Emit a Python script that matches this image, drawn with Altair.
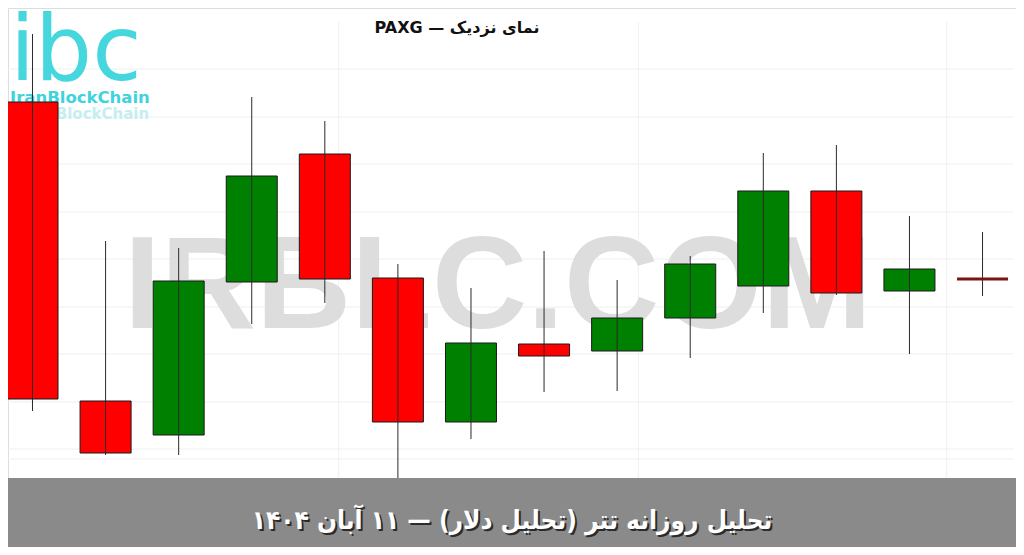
import altair as alt
import pandas as pd

# ---- data (price units approximate) ----
idx   = list(range(14))
opens = [4318, 4019, 3985, 4138, 4266, 4142, 3998, 4076, 4069, 4102, 4134, 4229, 4129, 4141]
highs = [4386, 4179, 4172, 4323, 4299, 4156, 4132, 4169, 4140, 4164, 4267, 4275, 4204, 4188]
lows  = [4009, 3965, 3965, 4096, 4117, 3933, 3981, 4028, 4029, 4062, 4107, 4125, 4066, 4124]
closes= [4021, 3967, 4139, 4244, 4141, 3998, 4077, 4064, 4102, 4156, 4229, 4127, 4151, 4141]

grid_prices = [4351, 4303, 4256, 4208, 4161, 4113, 4066, 4018, 3971, 3961]
grid_idx = [4.19, 8.29, 12.51]

title_text = "PAXG — نمای نزدیک"
banner_text = "تحلیل روزانه تتر (تحلیل دلار) — ۱۱ آبان ۱۴۰۴"
watermark = "IRBLC.COM"
logo_word = "IranBlockChain"
logo_mark = "ibc"

df = pd.DataFrame({"i": idx, "open": opens, "high": highs, "low": lows, "close": closes})
df["lo"] = df[["open", "close"]].min(axis=1)
df["hi"] = df[["open", "close"]].max(axis=1)
df["dir"] = ["up" if c > o else ("down" if c < o else "flat") for o, c in zip(opens, closes)]
df["x0"] = df["i"] - 0.349
df["x1"] = df["i"] + 0.349

W, H = 1008, 539
xs = alt.Scale(domain=[-0.33525, 13.4579], nice=False, zero=False)
ys = alt.Scale(domain=[3873, 4412], nice=False, zero=False)

X = lambda f: alt.X(f, type="quantitative", scale=xs, axis=None)
Y = lambda f: alt.Y(f, type="quantitative", scale=ys, axis=None)

hgrid = alt.Chart(pd.DataFrame({"p": grid_prices})).mark_rule(
    color="#efefef", strokeWidth=1).encode(y=Y("p"), x=alt.value(0), x2=alt.value(W - 3))
vgrid = alt.Chart(pd.DataFrame({"g": grid_idx})).mark_rule(
    color="#f0f0f0", strokeWidth=1).encode(x=X("g"), y=alt.value(14), y2=alt.value(470))

blank = pd.DataFrame({"t": [0]})

wm = alt.Chart(blank).mark_text(
    text=watermark, font="Liberation Sans", fontWeight="bold", fontSize=132,
    color="#dddddd", align="center", baseline="alphabetic"
).encode(x=alt.value(490), y=alt.value(320))

logo_main = alt.Chart(blank).mark_text(
    text=logo_mark, font="DejaVu Sans", fontSize=90, color="#45d6de",
    align="left", baseline="alphabetic"
).encode(x=alt.value(2), y=alt.value(72))
logo_word_echo = alt.Chart(blank).mark_text(
    text=logo_word, font="DejaVu Sans", fontWeight="bold", fontSize=15,
    color="#c5eef0", align="left", baseline="middle"
).encode(x=alt.value(14), y=alt.value(106))
logo_word_main = alt.Chart(blank).mark_text(
    text=logo_word, font="DejaVu Sans", fontWeight="bold", fontSize=16.5,
    color="#3fd3dc", align="left", baseline="middle"
).encode(x=alt.value(2), y=alt.value(90))

base = alt.Chart(df)
bodies = base.transform_filter("datum.dir != 'flat'").mark_rect(
    stroke="#1a1a1a", strokeWidth=1
).encode(
    x=X("x0"), x2="x1", y=Y("lo"), y2="hi",
    color=alt.Color("dir:N", scale=alt.Scale(domain=["up", "down"], range=["#008000", "#ff0000"]), legend=None),
)
wicks = base.mark_rule(color="#2a2a2a", strokeWidth=1).encode(x=X("i"), y=Y("low"), y2="high")
doji = base.transform_filter("datum.dir == 'flat'").mark_rule(
    color="#7a1414", strokeWidth=3).encode(x=X("x0"), x2="x1", y=Y("open"))

banner = alt.Chart(blank).mark_rect(color="#8a8a8a").encode(
    x=alt.value(0), x2=alt.value(W), y=alt.value(470), y2=alt.value(H))
banner_shadow = alt.Chart(blank).mark_text(
    text=banner_text, font="DejaVu Sans Condensed", fontWeight="bold", fontSize=26,
    color="#2b2b2b", align="center", baseline="middle"
).encode(x=alt.value(506), y=alt.value(515))
banner_txt = alt.Chart(blank).mark_text(
    text=banner_text, font="DejaVu Sans Condensed", fontWeight="bold", fontSize=26,
    color="#ffffff", align="center", baseline="middle"
).encode(x=alt.value(504), y=alt.value(513))

title = alt.Chart(blank).mark_text(
    text=title_text, font="DejaVu Sans", fontWeight="bold", fontSize=16,
    color="#111111", align="center", baseline="middle"
).encode(x=alt.value(449), y=alt.value(20))

chart = alt.layer(
    hgrid, vgrid, wm, logo_main, logo_word_echo, logo_word_main,
    bodies, wicks, doji, banner, banner_shadow, banner_txt, title
).properties(
    width=W, height=H, padding=0, autosize=alt.AutoSizeParams(type="none")
).configure_view(stroke=None).configure(background="white")

chart.save("out.html", embed_options={"renderer": "svg", "actions": False})
